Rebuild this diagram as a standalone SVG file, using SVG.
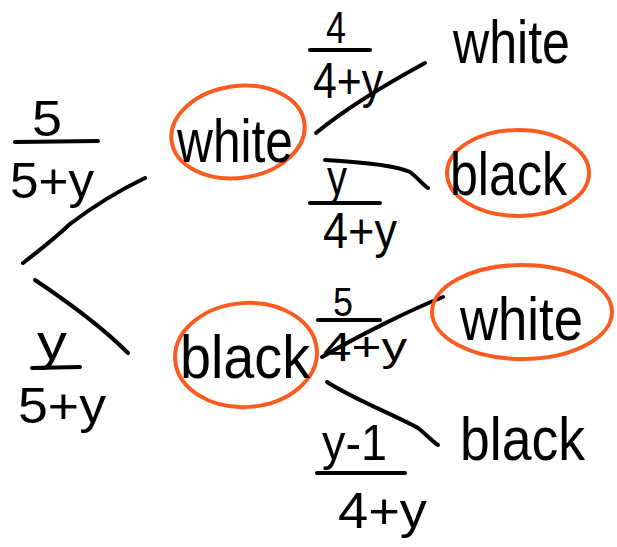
<svg xmlns="http://www.w3.org/2000/svg" width="617" height="547" viewBox="0 0 617 547">
<style>
.t{font-family:"Liberation Sans","DejaVu Sans",sans-serif;fill:#000}
.w{font-size:62px}
.f{font-size:50px}
.ln{fill:none;stroke:#000;stroke-width:4;stroke-linecap:round;stroke-linejoin:round}
.o{fill:none;stroke:#FA5B1E;stroke-width:4;stroke-linecap:round}
</style>
<rect width="617" height="547" fill="#fff"/>
<g id="connectors">
<path class="ln" d="M23,263 C40,250 55,238 70,224 C95,205 120,190 145,178"/>
<path class="ln" d="M35,280 C65,300 100,325 128,353"/>
<path class="ln" d="M316,133 C350,105 390,82 425,63"/>
<path class="ln" d="M325,160 C360,162 395,165 410,172 C418,178 423,185 428,188"/>
<path class="ln" d="M322,357 C360,335 410,310 443,297"/>
<path class="ln" d="M327,382 C355,400 395,415 418,428 C428,436 433,442 438,445"/>
</g>
<g id="p1">
<text class="t f" x="32" y="136" textLength="30" lengthAdjust="spacingAndGlyphs">5</text>
<path class="ln" d="M15,142 L98,141"/>
<text class="t f" x="10" y="198" textLength="84" lengthAdjust="spacingAndGlyphs">5+y</text>
</g>
<g id="p2">
<text class="t f" x="37" y="360" textLength="30" lengthAdjust="spacingAndGlyphs">y</text>
<path class="ln" d="M32,368 L80,367"/>
<text class="t f" x="18" y="423" textLength="88" lengthAdjust="spacingAndGlyphs">5+y</text>
</g>
<g id="n-white1">
<ellipse class="o" cx="238" cy="132" rx="67" ry="46" transform="rotate(-8 238 132)"/>
<text class="t w" x="177" y="162" textLength="116" lengthAdjust="spacingAndGlyphs">white</text>
</g>
<g id="n-black1">
<ellipse class="o" cx="246" cy="355" rx="71" ry="52" transform="rotate(-4 246 355)"/>
<text class="t w" x="180" y="378" textLength="130" lengthAdjust="spacingAndGlyphs">black</text>
</g>
<g id="p3">
<text class="t" style="font-size:44px" x="326" y="43" textLength="20" lengthAdjust="spacingAndGlyphs">4</text>
<path class="ln" d="M310,50 L370,50"/>
<text class="t f" x="313" y="98" textLength="70" lengthAdjust="spacingAndGlyphs">4+y</text>
</g>
<g id="p4">
<text class="t f" x="327" y="195" textLength="20" lengthAdjust="spacingAndGlyphs">y</text>
<path class="ln" d="M310,203 L380,203"/>
<text class="t f" x="323" y="248" textLength="74" lengthAdjust="spacingAndGlyphs">4+y</text>
</g>
<g id="p5">
<text class="t" style="font-size:40px" x="333" y="316" textLength="20" lengthAdjust="spacingAndGlyphs">5</text>
<path class="ln" d="M318,320 L380,320"/>
<text class="t" style="font-size:40px" x="323" y="361" textLength="84" lengthAdjust="spacingAndGlyphs">4+y</text>
</g>
<g id="p6">
<text class="t f" x="322" y="460" textLength="65" lengthAdjust="spacingAndGlyphs">y-1</text>
<path class="ln" d="M317,473 L405,473"/>
<text class="t f" x="338" y="528" textLength="89" lengthAdjust="spacingAndGlyphs">4+y</text>
</g>
<g id="n-white2">
<text class="t w" x="453" y="63" textLength="117" lengthAdjust="spacingAndGlyphs">white</text>
</g>
<g id="n-black2">
<ellipse class="o" cx="518" cy="173" rx="71" ry="43"/>
<text class="t w" x="450" y="195" textLength="117" lengthAdjust="spacingAndGlyphs">black</text>
</g>
<g id="n-white3">
<ellipse class="o" cx="522" cy="312" rx="90" ry="47"/>
<text class="t w" x="460" y="340" textLength="123" lengthAdjust="spacingAndGlyphs">white</text>
</g>
<g id="n-black3">
<text class="t w" x="460" y="460" textLength="125" lengthAdjust="spacingAndGlyphs">black</text>
</g>
</svg>
